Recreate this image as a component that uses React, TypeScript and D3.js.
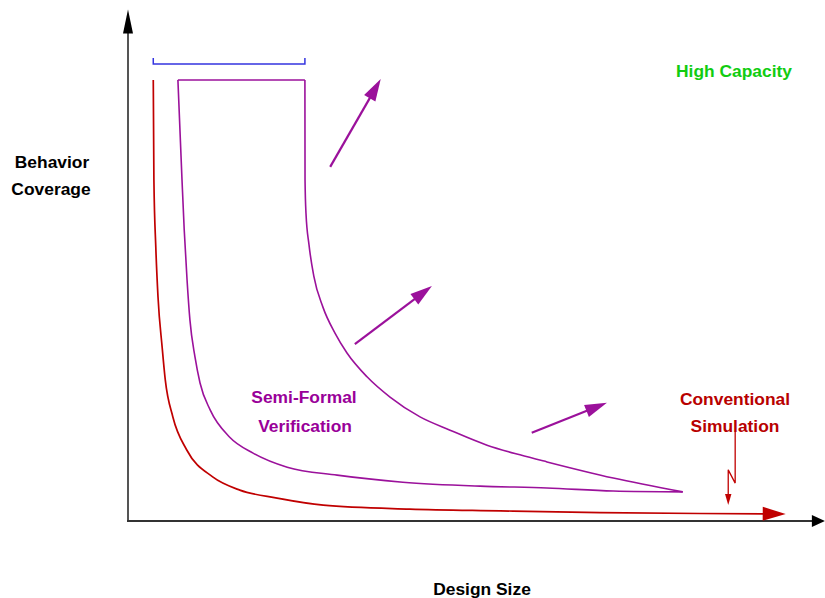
import React, { useEffect, useRef } from 'react';
import * as d3 from 'd3';

// Conventional simulation (red curve)
const simSize = [4.0, 4.1, 4.4, 4.75, 5.4, 5.9, 7.1, 9.3, 13.4, 17.7, 23.6, 30.9, 44.6, 58.9, 74.7, 90.5, 104.1];
const simCoverage = [100, 77.3, 62.1, 50.8, 39.5, 32.0, 23.6, 16.1, 10.0, 7.0, 5.2, 3.6, 2.7, 2.3, 1.9, 1.7, 1.6];

// Semi-formal verification, lower edge
const sfLowSize = [7.9, 8.55, 8.9, 9.35, 9.8, 10.6, 11.4, 13.0, 16.1, 19.8, 25.2, 33.1, 43.5, 55.7, 66.3, 76.8, 87.8];
const sfLowCoverage = [100, 77.3, 66.0, 54.6, 45.6, 37.2, 31.3, 25.2, 19.0, 15.4, 12.2, 10.4, 8.8, 7.9, 7.5, 6.8, 6.6];

// Semi-formal verification, upper edge
const sfHighSize = [28.0, 28.02, 28.17, 28.65, 29.4, 30.85, 32.76, 34.66, 37.83, 41.47, 46.22, 50.97, 56.82, 62.04, 66.32, 76.8, 87.8];
const sfHighCoverage = [100, 77.3, 69.8, 62.6, 55.6, 48.5, 42.6, 38.1, 32.7, 28.1, 23.6, 20.6, 17.2, 15.0, 13.4, 9.75, 6.6];

// "high capacity" push arrows
const pushFromSize = [32.0, 35.9, 63.9];
const pushFromCoverage = [80.3, 40.1, 20.0];
const pushToSize = [40.0, 48.1, 75.8];
const pushToCoverage = [100.2, 53.3, 26.8];

// pointer under "Conventional Simulation"
const pointerSize = [96.1, 96.1, 95.0, 95.0];
const pointerCoverage = [20.2, 8.6, 11.6, 3.6];

// blue bracket over the top
const bracketSize = [4.0, 28.0];
const bracketCoverage = [105.0, 103.6];

const axisMax = { size: 110.3, coverage: 116 };

const yTitle = ['Behavior', 'Coverage'];
const xTitle = 'Design Size';
const sfLabel = ['Semi-Formal', 'Verification'];
const simLabel = ['Conventional', 'Simulation'];
const capacityLabel = 'High Capacity';

const W = 825;
const H = 598;

const App: React.FC = () => {
  const ref = useRef<SVGSVGElement>(null);

  useEffect(() => {
    if (!ref.current) return;
    const svg = d3.select(ref.current);
    svg.selectAll('*').remove();

    const x = d3.scaleLinear().domain([0, 110]).range([128, 823]);
    const y = d3.scaleLinear().domain([0, 100]).range([521, 80]);

    const font = '"Liberation Sans", Arial, Helvetica, sans-serif';
    const red = '#c00000';
    const purple = '#9b119b';

    const line = d3.line<[number, number]>()
      .x(d => x(d[0]))
      .y(d => y(d[1]))
      .curve(d3.curveMonotoneX);

    const zip = (a: number[], b: number[]) => a.map((v, i) => [v, b[i]] as [number, number]);

    // arrowhead from a pixel segment
    const head = (x0: number, y0: number, x1: number, y1: number, len: number, half: number, color: string) => {
      const dx = x1 - x0, dy = y1 - y0;
      const l = Math.hypot(dx, dy) || 1;
      const ux = dx / l, uy = dy / l;
      const bx = x1 - ux * len, by = y1 - uy * len;
      svg.append('polygon')
        .attr('points', `${x1},${y1} ${bx - uy * half},${by + ux * half} ${bx + uy * half},${by - ux * half}`)
        .attr('fill', color);
    };

    // axes
    svg.append('line')
      .attr('x1', x(0)).attr('y1', y(0))
      .attr('x2', x(0)).attr('y2', y(axisMax.coverage) + 10)
      .attr('stroke', '#555').attr('stroke-width', 2);
    head(x(0), y(0), x(0), y(axisMax.coverage), 24, 5, '#000');
    svg.append('line')
      .attr('x1', x(0) - 1).attr('y1', y(0))
      .attr('x2', x(axisMax.size) - 8).attr('y2', y(0))
      .attr('stroke', '#333').attr('stroke-width', 2);
    head(x(0), y(0), x(axisMax.size), y(0), 13, 6, '#000');

    // semi-formal band
    const low = zip(sfLowSize, sfLowCoverage);
    const high = zip(sfHighSize, sfHighCoverage);
    svg.append('path')
      .attr('d', line(low))
      .attr('fill', 'none').attr('stroke', purple).attr('stroke-width', 1.6);
    svg.append('path')
      .attr('d', line(high))
      .attr('fill', 'none').attr('stroke', purple).attr('stroke-width', 1.6);
    svg.append('line')
      .attr('x1', x(sfLowSize[0])).attr('y1', y(sfLowCoverage[0]))
      .attr('x2', x(sfHighSize[0])).attr('y2', y(sfHighCoverage[0]))
      .attr('stroke', purple).attr('stroke-width', 1.6);

    // conventional simulation
    const sim = zip(simSize, simCoverage);
    const n = sim.length;
    svg.append('path')
      .attr('d', line(sim.slice(0, n - 1).concat([[simSize[n - 1] - 3, simCoverage[n - 1]]])))
      .attr('fill', 'none').attr('stroke', red).attr('stroke-width', 1.7);
    head(x(simSize[n - 2]), y(simCoverage[n - 2]), x(simSize[n - 1]), y(simCoverage[n - 1]), 23, 7, red);

    // bracket
    svg.append('path')
      .attr('d', `M${x(bracketSize[0])},${y(bracketCoverage[0])}V${y(bracketCoverage[1])}H${x(bracketSize[1])}V${y(bracketCoverage[0])}`)
      .attr('fill', 'none').attr('stroke', '#3434e0').attr('stroke-width', 1.5);

    // push arrows
    pushFromSize.forEach((s, i) => {
      const x0 = x(s), y0 = y(pushFromCoverage[i]);
      const x1 = x(pushToSize[i]), y1 = y(pushToCoverage[i]);
      svg.append('line')
        .attr('x1', x0).attr('y1', y0).attr('x2', x1 - (x1 - x0) * 0.1).attr('y2', y1 - (y1 - y0) * 0.1)
        .attr('stroke', purple).attr('stroke-width', 2.2);
      head(x0, y0, x1, y1, 22, 6.5, purple);
    });

    // pointer
    const p = zip(pointerSize, pointerCoverage);
    svg.append('path')
      .attr('d', d3.line<[number, number]>().x(d => x(d[0])).y(d => y(d[1]))(p.slice(0, 3).concat([[pointerSize[3], pointerCoverage[3] + 2]])))
      .attr('fill', 'none').attr('stroke', red).attr('stroke-width', 1.3);
    head(x(pointerSize[2]), y(pointerCoverage[2]), x(pointerSize[3]), y(pointerCoverage[3]), 11, 3.2, red);

    // labels
    const label = (t: string, cx: number, cy: number, color: string) =>
      svg.append('text')
        .attr('x', cx).attr('y', cy)
        .attr('text-anchor', 'middle')
        .attr('fill', color)
        .style('font-family', font)
        .style('font-weight', 'bold')
        .style('font-size', '17.4px')
        .text(t);

    label(yTitle[0], 52, 168, '#000');
    label(yTitle[1], 51, 195, '#000');
    label(xTitle, 482, 595, '#000');
    label(sfLabel[0], 304, 403, '#990099');
    label(sfLabel[1], 305, 432, '#990099');
    label(simLabel[0], 735, 405, '#b80000');
    label(simLabel[1], 735, 432, '#b80000');
    label(capacityLabel, 734, 77, '#11cc11');
  }, []);

  return (
    <svg
      ref={ref}
      width={W}
      height={H}
      style={{ position: 'absolute', left: 0, top: 0, display: 'block', background: '#fff' }}
    />
  );
};

export default App;
